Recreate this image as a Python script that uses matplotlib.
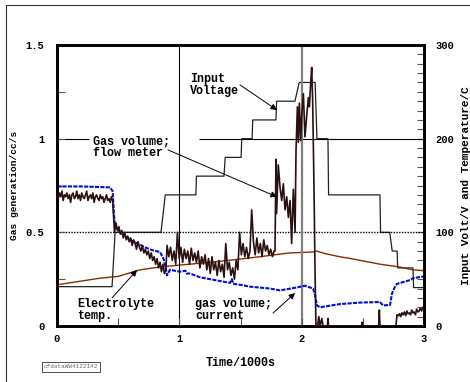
import numpy as np
from matplotlib import pyplot as plt
from matplotlib import ticker
from matplotlib.patches import Rectangle

plt.rcParams['font.family'] = ['Liberation Mono', 'DejaVu Sans Mono']
plt.rcParams['font.weight'] = 'bold'

# input voltage, V (right axis)
volt_t = [0, 0.45, 0.475, 0.85, 0.885, 1.135, 1.14, 1.365, 1.375, 1.505,
          1.51, 1.595, 1.60, 1.79, 1.795, 1.945, 1.98, 2.11, 2.125, 2.215,
          2.22, 2.64, 2.645, 2.72, 2.74, 2.78, 2.785, 2.91, 2.915, 3.0]
volt_v = [42, 42, 100, 100, 140, 140, 160, 160, 180, 180,
          200, 200, 220, 220, 240, 240, 260, 260, 200, 200,
          140, 140, 100, 100, 80, 80, 62, 62, 41, 41]

# electrolyte temperature, C (right axis)
temp_t = [0, 0.35, 0.5, 0.68, 0.84, 1.0, 1.17, 1.4, 1.66, 1.78,
          1.9, 2.09, 2.12, 2.2, 2.31, 2.4, 2.64, 2.8, 2.91, 3.0]
temp_v = [44, 51, 53, 60, 63, 65, 67, 70, 74, 76,
          78, 79, 80, 77, 74, 72, 66, 63, 60, 59]

# gas volume from current, cc/s (left axis)
cur_t = [0, 0.2, 0.433, 0.455, 0.465, 0.474, 0.5, 0.597, 0.72, 0.777,
         0.842, 0.87, 0.883, 0.899, 0.924, 1.005, 1.05, 1.06, 1.087, 1.169,
         1.251, 1.414, 1.43, 1.44, 1.496, 1.578, 1.741, 1.823, 1.954, 2.027,
         2.093, 2.109, 2.125, 2.15, 2.313, 2.477, 2.64, 2.665, 2.722, 2.739,
         2.763, 2.779, 2.886, 2.91, 3.0]
cur_v = [0.745, 0.745, 0.74, 0.72, 0.6, 0.53, 0.51, 0.46, 0.42, 0.405,
         0.395, 0.36, 0.33, 0.27, 0.3, 0.29, 0.295, 0.28, 0.28, 0.26,
         0.25, 0.23, 0.25, 0.225, 0.22, 0.21, 0.2, 0.19, 0.205, 0.215,
         0.2, 0.165, 0.11, 0.1, 0.117, 0.125, 0.128, 0.11, 0.112, 0.175,
         0.21, 0.225, 0.245, 0.255, 0.265]

flow_a = [0.70, 0.68, 0.71, 0.69, 0.72, 0.67, 0.70, 0.69, 0.71, 0.68,
          0.70, 0.66, 0.70, 0.71, 0.68, 0.69, 0.72, 0.68, 0.70, 0.67,
          0.71, 0.69, 0.68, 0.70, 0.72, 0.67, 0.69, 0.70, 0.68, 0.71,
          0.66, 0.69, 0.70, 0.68, 0.67, 0.70, 0.68, 0.69, 0.66, 0.68,
          0.70, 0.67, 0.68, 0.66, 0.69, 0.67]  # 0 .. 0.455
flow_b = [0.50, 0.55, 0.51, 0.53, 0.49, 0.51, 0.47, 0.50, 0.46, 0.48,
          0.45, 0.47, 0.43, 0.46, 0.44, 0.41, 0.45, 0.42, 0.40, 0.43,
          0.39, 0.41, 0.38, 0.40, 0.36, 0.39, 0.35, 0.37, 0.33, 0.36,
          0.31, 0.34, 0.29, 0.33, 0.28, 0.30]  # 0.47 .. 0.89
flow_c = [0.43, 0.37, 0.42, 0.35, 0.40, 0.33, 0.50, 0.36, 0.42, 0.34,
          0.41, 0.36, 0.40, 0.33, 0.415, 0.35, 0.39, 0.34, 0.40, 0.31,
          0.37, 0.33, 0.38, 0.30, 0.36, 0.28, 0.37, 0.30, 0.34, 0.27,
          0.35, 0.29, 0.33, 0.26, 0.44, 0.30, 0.34, 0.27, 0.31, 0.25,
          0.35, 0.30, 0.50, 0.38, 0.44, 0.37, 0.42, 0.36, 0.40, 0.62,
          0.45, 0.38, 0.47, 0.39, 0.44, 0.37, 0.46, 0.40, 0.43, 0.38,
          0.41, 0.37, 0.40]  # 0.9 .. 1.775
flow_d_t = [1.782, 1.790, 1.795, 1.809, 1.823, 1.837, 1.850, 1.864, 1.878, 1.891,
            1.905, 1.918, 1.932, 1.946, 1.954, 1.965, 1.973, 1.981, 1.992, 2.000,
            2.014, 2.027, 2.041, 2.055, 2.063, 2.074, 2.082, 2.090, 2.101, 2.109,
            2.117]
flow_d_v = [0.40, 0.89, 0.60, 0.86, 0.74, 0.67, 0.76, 0.62, 0.69, 0.58,
            0.67, 0.44, 0.73, 0.50, 0.94, 1.17, 0.98, 1.19, 0.99, 1.12,
            1.24, 1.01, 1.12, 1.22, 1.17, 1.30, 1.38, 1.20, 0.73, 0.30,
            0.0]
flow_e_t = [2.13, 2.14, 2.15, 2.165, 2.175, 2.21, 2.215, 2.22, 2.49, 2.495,
            2.50, 2.63, 2.635, 2.64, 2.77, 2.78, 2.79, 2.80, 2.81, 2.82,
            2.83, 2.84, 2.85, 2.86, 2.87, 2.88, 2.89, 2.90, 2.91, 2.92,
            2.93, 2.94, 2.95, 2.96, 2.97, 2.98, 2.99, 3.0]
flow_e_v = [0.0, 0.05, 0.0, 0.04, 0.0, 0.0, 0.04, 0.0, 0.0, 0.02,
            0.0, 0.0, 0.085, 0.0, 0.0, 0.06, 0.055, 0.065, 0.05, 0.07,
            0.06, 0.075, 0.055, 0.08, 0.065, 0.07, 0.06, 0.085, 0.07, 0.075,
            0.06, 0.09, 0.075, 0.08, 0.095, 0.08, 0.10, 0.09]

flow_t = np.concatenate([np.linspace(0, 0.455, len(flow_a)),
                         np.linspace(0.47, 0.89, len(flow_b)),
                         np.linspace(0.9, 1.775, len(flow_c)),
                         flow_d_t, flow_e_t])
flow_v = np.concatenate([flow_a, flow_b, flow_c, flow_d_v, flow_e_v])

fig = plt.figure(figsize=(4.7, 3.82), dpi=100)
fig.patches.append(Rectangle((6 / 470, -0.1), 1.2, 1.1 - 5 / 382,
                             transform=fig.transFigure, fill=False,
                             edgecolor='#333333', lw=0.8))

ax = fig.add_axes([57 / 470, 56 / 382, 367 / 470, 281 / 382])
ax2 = ax.twinx()
ax.set_zorder(ax2.get_zorder() + 1)
ax.patch.set_visible(False)

# reference lines
ax.axhline(0.5, color='black', lw=1.0, ls=(0, (1, 1)), zorder=1)
ax.hlines(1.0, 0, 0.26, color='black', lw=0.8, zorder=1)
ax.hlines(1.0, 1.16, 3, color='black', lw=0.8, zorder=1)
ax.axvline(1, color='black', lw=0.8, zorder=1)
ax.axvline(2, color='#808080', lw=1.6, zorder=1)

ax2.plot(volt_t, volt_v, color='#222222', lw=0.9)
ax2.plot(temp_t, temp_v, color='#8b2a00', lw=1.0)
ax.plot(cur_t, cur_v, color='#0010d0', lw=1.5, ls=(0, (2, 0.6)), zorder=2)
ax.plot(flow_t, flow_v, color='#2a1010', lw=1.2, zorder=3)

ax.set_xlim(0, 3)
ax.set_ylim(0, 1.5)
ax2.set_ylim(0, 300)

ax.xaxis.set_major_locator(ticker.MultipleLocator(1))
ax.xaxis.set_minor_locator(ticker.MultipleLocator(0.5))
ax.yaxis.set_major_locator(ticker.FixedLocator([0, 0.5, 1, 1.5]))
ax.yaxis.set_major_formatter(ticker.FixedFormatter(['0', '0.5', '1', '1.5']))
ax.yaxis.set_minor_locator(ticker.MultipleLocator(0.25))
ax2.yaxis.set_major_locator(ticker.MultipleLocator(100))
ax2.yaxis.set_minor_locator(ticker.MultipleLocator(10))

ax.tick_params(axis='both', which='both', direction='in', color='#555555',
               labelsize=7.5, top=False, right=False)
ax.tick_params(axis='both', which='major', length=6, width=0.8)
ax.tick_params(axis='both', which='minor', length=6, width=0.8)
ax.tick_params(axis='x', pad=6)
ax.tick_params(axis='y', pad=9)
ax2.tick_params(axis='y', which='both', direction='in', color='#555555',
                labelsize=7.5, length=5, width=0.8, pad=8)

for a in (ax, ax2):
    for s in a.spines.values():
        s.set_linewidth(1.9)

ax.set_xlabel('Time/1000s', fontsize=8.5, fontweight='bold', labelpad=9)
ax.set_ylabel('Gas generation/cc/s', fontsize=6.8, fontweight='bold', labelpad=5)
ax2.set_ylabel('Input Volt/V and Temperature/C', fontsize=8.0,
               fontweight='bold', labelpad=5)

arrow = dict(arrowstyle='-|>', color='black', lw=0.7, mutation_scale=9,
             shrinkA=0, shrinkB=0)
lab = dict(fontsize=8.5, fontweight='bold', ha='left', va='center',
           linespacing=0.95, zorder=5)

ax.text(1.087, 1.287, 'Input\nVoltage', **lab)
ax.annotate('', xy=(1.798, 1.153), xytext=(1.496, 1.287), arrowprops=arrow)

ax.text(0.294, 0.956, 'Gas volume;\nflow meter', **lab)
ax.annotate('', xy=(1.798, 0.689), xytext=(0.907, 0.94), arrowprops=arrow)

ax.text(0.163, 0.085, 'Electrolyte\ntemp.', **lab)
ax.annotate('', xy=(0.654, 0.299), xytext=(0.45, 0.15), arrowprops=arrow)

ax.text(1.128, 0.085, 'gas volume;\ncurrent', **lab)
ax.annotate('', xy=(1.946, 0.176), xytext=(1.766, 0.069), arrowprops=arrow)

fig.text(71 / 470, 1 - 367 / 382, 'cfdataWW41221#2', fontsize=4.3,
         fontweight='normal', color='#666666', ha='center', va='center',
         bbox=dict(facecolor='white', edgecolor='#333333', lw=0.6,
                   boxstyle='square,pad=0.35'))

fig.savefig('out.png', dpi=100)
